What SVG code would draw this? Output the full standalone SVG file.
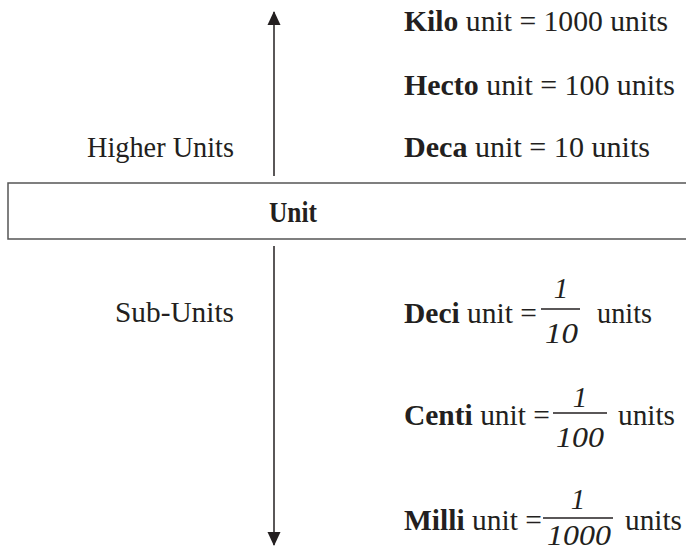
<svg xmlns="http://www.w3.org/2000/svg" width="686" height="550" viewBox="0 0 686 550">
<style>
text{font-family:"Liberation Serif","Times New Roman",serif;font-size:29px;fill:#231f20}
.b{font-weight:bold}
.i{font-style:italic}
.ln{stroke:#231f20;stroke-width:1.5;fill:none}
.bar{stroke:#231f20;stroke-width:1.3}
</style>
<defs>
<marker id="ah" viewBox="0 0 14 14" refX="13" refY="7" markerWidth="14" markerHeight="14" markerUnits="userSpaceOnUse" orient="auto">
<path d="M0,0.5 L14,7 L0,13.5 Z" fill="#231f20"/>
</marker>
</defs>
<g id="connectors">
<line class="ln" x1="274" y1="176" x2="274" y2="12" marker-end="url(#ah)"/>
<line class="ln" x1="274" y1="246" x2="274" y2="545" marker-end="url(#ah)"/>
</g>
<g id="unit">
<rect x="8" y="183" width="700" height="56" fill="#fff" stroke="#555" stroke-width="1.5"/>
<text class="b" x="269" y="222" font-size="31" textLength="48" lengthAdjust="spacingAndGlyphs">Unit</text>
</g>
<g id="higher-units"><text x="87" y="157" textLength="147" lengthAdjust="spacingAndGlyphs">Higher Units</text></g>
<g id="sub-units"><text x="115" y="322" textLength="119" lengthAdjust="spacingAndGlyphs">Sub-Units</text></g>
<g id="kilo"><text x="404" y="31" textLength="264" lengthAdjust="spacingAndGlyphs"><tspan class="b">Kilo</tspan> unit = 1000 units</text></g>
<g id="hecto"><text x="404" y="95" textLength="271" lengthAdjust="spacingAndGlyphs"><tspan class="b">Hecto</tspan> unit = 100 units</text></g>
<g id="deca"><text x="404" y="157" textLength="246" lengthAdjust="spacingAndGlyphs"><tspan class="b">Deca</tspan> unit = 10 units</text></g>
<g id="deci">
<text x="404" y="323" textLength="133" lengthAdjust="spacingAndGlyphs"><tspan class="b">Deci</tspan> unit =</text>
<line class="bar" x1="541" y1="309" x2="580" y2="309"/>
<text class="i" x="561" y="298" text-anchor="middle">1</text>
<text class="i" x="545" y="343" textLength="33" lengthAdjust="spacingAndGlyphs">10</text>
<text x="597" y="323" textLength="55" lengthAdjust="spacingAndGlyphs">units</text>
</g>
<g id="centi">
<text x="404" y="425" textLength="146" lengthAdjust="spacingAndGlyphs"><tspan class="b">Centi</tspan> unit =</text>
<line class="bar" x1="553" y1="413" x2="607" y2="413"/>
<text class="i" x="580" y="407" text-anchor="middle">1</text>
<text class="i" x="556" y="447" textLength="48" lengthAdjust="spacingAndGlyphs">100</text>
<text x="618" y="425" textLength="57" lengthAdjust="spacingAndGlyphs">units</text>
</g>
<g id="milli">
<text x="404" y="530" textLength="138" lengthAdjust="spacingAndGlyphs"><tspan class="b">Milli</tspan> unit =</text>
<line class="bar" x1="543" y1="518" x2="613" y2="518"/>
<text class="i" x="578" y="509" text-anchor="middle">1</text>
<text class="i" x="547" y="545" textLength="64" lengthAdjust="spacingAndGlyphs">1000</text>
<text x="625" y="530" textLength="57" lengthAdjust="spacingAndGlyphs">units</text>
</g>
</svg>
